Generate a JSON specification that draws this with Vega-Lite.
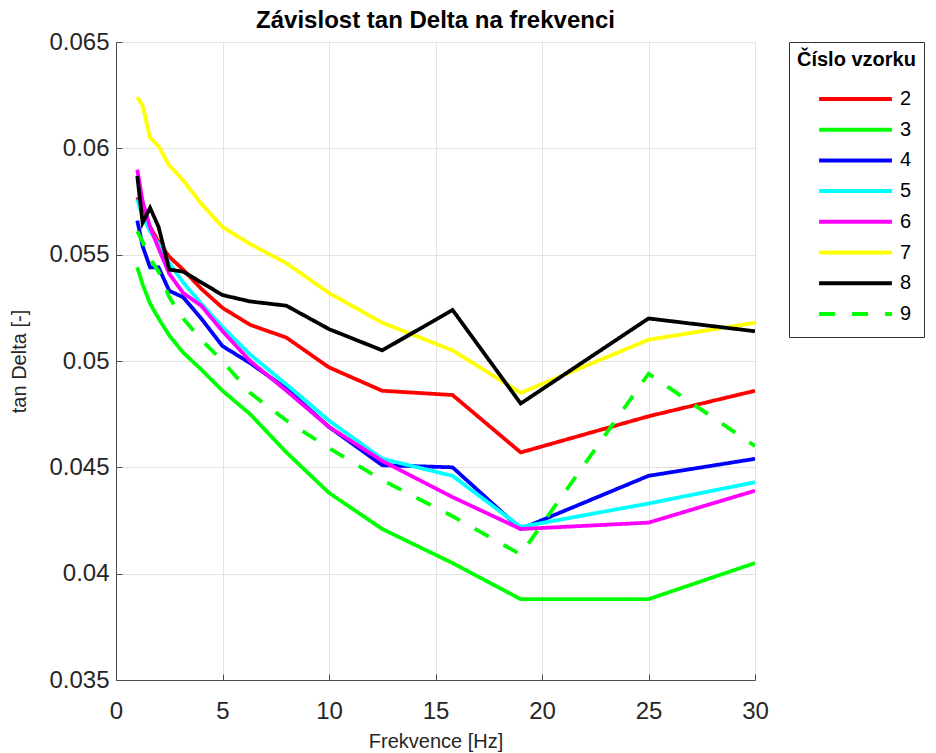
{
  "$schema": "https://vega.github.io/schema/vega-lite/v6.json",
  "autosize": {"type": "none"},
  "width": 639,
  "height": 638,
  "padding": {"left": 116, "top": 42, "right": 181, "bottom": 73},
  "background": "white",
  "config": {
    "font": "Liberation Sans",
    "view": {"stroke": null},
    "axis": {
      "domainColor": "#4d4d4d",
      "domainWidth": 1,
      "tickColor": "#4d4d4d",
      "tickSize": -6,
      "gridColor": "#e3e3e3",
      "gridWidth": 1,
      "labelColor": "#262626",
      "labelFontSize": 24,
      "labelFont": "Liberation Sans",
      "titleFont": "Liberation Sans",
      "titleFontWeight": "normal",
      "titleColor": "#262626",
      "titleFontSize": 20
    }
  },
  "title": {
    "text": "Závislost tan Delta na frekvenci",
    "fontSize": 24,
    "fontWeight": "bold",
    "font": "Liberation Sans",
    "color": "#000000",
    "anchor": "middle",
    "offset": -3
  },
  "data": {
    "values": [
      {"f": 1, "v": 0.0577, "s": "2"}, {"f": 1.25, "v": 0.0570, "s": "2"}, {"f": 1.6, "v": 0.0563, "s": "2"}, {"f": 2, "v": 0.0556, "s": "2"}, {"f": 2.5, "v": 0.0549, "s": "2"}, {"f": 3.15, "v": 0.0543, "s": "2"}, {"f": 4, "v": 0.0534, "s": "2"}, {"f": 5, "v": 0.0525, "s": "2"}, {"f": 6.3, "v": 0.0517, "s": "2"}, {"f": 8, "v": 0.0511, "s": "2"}, {"f": 10, "v": 0.0497, "s": "2"}, {"f": 12.5, "v": 0.0486, "s": "2"}, {"f": 15.8, "v": 0.0484, "s": "2"}, {"f": 19, "v": 0.0457, "s": "2"}, {"f": 25, "v": 0.0474, "s": "2"}, {"f": 30, "v": 0.0486, "s": "2"},
      {"f": 1, "v": 0.0544, "s": "3"}, {"f": 1.25, "v": 0.0536, "s": "3"}, {"f": 1.6, "v": 0.0527, "s": "3"}, {"f": 2, "v": 0.0520, "s": "3"}, {"f": 2.5, "v": 0.0512, "s": "3"}, {"f": 3.15, "v": 0.0504, "s": "3"}, {"f": 4, "v": 0.0496, "s": "3"}, {"f": 5, "v": 0.0486, "s": "3"}, {"f": 6.3, "v": 0.0475, "s": "3"}, {"f": 8, "v": 0.0457, "s": "3"}, {"f": 10, "v": 0.0438, "s": "3"}, {"f": 12.5, "v": 0.0421, "s": "3"}, {"f": 15.8, "v": 0.0405, "s": "3"}, {"f": 19, "v": 0.0388, "s": "3"}, {"f": 25, "v": 0.0388, "s": "3"}, {"f": 30, "v": 0.0405, "s": "3"},
      {"f": 1, "v": 0.0566, "s": "4"}, {"f": 1.25, "v": 0.0554, "s": "4"}, {"f": 1.6, "v": 0.0544, "s": "4"}, {"f": 2, "v": 0.0544, "s": "4"}, {"f": 2.5, "v": 0.0533, "s": "4"}, {"f": 3.15, "v": 0.0530, "s": "4"}, {"f": 4, "v": 0.0520, "s": "4"}, {"f": 5, "v": 0.0507, "s": "4"}, {"f": 6.3, "v": 0.0499, "s": "4"}, {"f": 8, "v": 0.0487, "s": "4"}, {"f": 10, "v": 0.0469, "s": "4"}, {"f": 12.5, "v": 0.0451, "s": "4"}, {"f": 15.8, "v": 0.0450, "s": "4"}, {"f": 19, "v": 0.0421, "s": "4"}, {"f": 25, "v": 0.0446, "s": "4"}, {"f": 30, "v": 0.0454, "s": "4"},
      {"f": 1, "v": 0.0576, "s": "5"}, {"f": 1.25, "v": 0.0568, "s": "5"}, {"f": 1.6, "v": 0.0561, "s": "5"}, {"f": 2, "v": 0.0555, "s": "5"}, {"f": 2.5, "v": 0.0546, "s": "5"}, {"f": 3.15, "v": 0.0537, "s": "5"}, {"f": 4, "v": 0.0527, "s": "5"}, {"f": 5, "v": 0.0516, "s": "5"}, {"f": 6.3, "v": 0.0503, "s": "5"}, {"f": 8, "v": 0.0489, "s": "5"}, {"f": 10, "v": 0.0472, "s": "5"}, {"f": 12.5, "v": 0.0454, "s": "5"}, {"f": 15.8, "v": 0.0446, "s": "5"}, {"f": 19, "v": 0.0422, "s": "5"}, {"f": 25, "v": 0.0433, "s": "5"}, {"f": 30, "v": 0.0443, "s": "5"},
      {"f": 1, "v": 0.0590, "s": "6"}, {"f": 1.25, "v": 0.0575, "s": "6"}, {"f": 1.6, "v": 0.0563, "s": "6"}, {"f": 2, "v": 0.0553, "s": "6"}, {"f": 2.5, "v": 0.0541, "s": "6"}, {"f": 3.15, "v": 0.0532, "s": "6"}, {"f": 4, "v": 0.0526, "s": "6"}, {"f": 5, "v": 0.0514, "s": "6"}, {"f": 6.3, "v": 0.0500, "s": "6"}, {"f": 8, "v": 0.0486, "s": "6"}, {"f": 10, "v": 0.0469, "s": "6"}, {"f": 12.5, "v": 0.0453, "s": "6"}, {"f": 15.8, "v": 0.0436, "s": "6"}, {"f": 19, "v": 0.0421, "s": "6"}, {"f": 25, "v": 0.0424, "s": "6"}, {"f": 30, "v": 0.0439, "s": "6"},
      {"f": 1, "v": 0.0624, "s": "7"}, {"f": 1.25, "v": 0.0620, "s": "7"}, {"f": 1.6, "v": 0.0605, "s": "7"}, {"f": 2, "v": 0.0601, "s": "7"}, {"f": 2.5, "v": 0.0592, "s": "7"}, {"f": 3.15, "v": 0.0585, "s": "7"}, {"f": 4, "v": 0.0574, "s": "7"}, {"f": 5, "v": 0.0563, "s": "7"}, {"f": 6.3, "v": 0.0555, "s": "7"}, {"f": 8, "v": 0.0546, "s": "7"}, {"f": 10, "v": 0.0532, "s": "7"}, {"f": 12.5, "v": 0.0518, "s": "7"}, {"f": 15.8, "v": 0.0505, "s": "7"}, {"f": 19, "v": 0.0485, "s": "7"}, {"f": 25, "v": 0.0510, "s": "7"}, {"f": 30, "v": 0.0518, "s": "7"},
      {"f": 1, "v": 0.0587, "s": "8"}, {"f": 1.25, "v": 0.0565, "s": "8"}, {"f": 1.6, "v": 0.0572, "s": "8"}, {"f": 2, "v": 0.0563, "s": "8"}, {"f": 2.5, "v": 0.0543, "s": "8"}, {"f": 3.15, "v": 0.0542, "s": "8"}, {"f": 4, "v": 0.0537, "s": "8"}, {"f": 5, "v": 0.0531, "s": "8"}, {"f": 6.3, "v": 0.0528, "s": "8"}, {"f": 8, "v": 0.0526, "s": "8"}, {"f": 10, "v": 0.0515, "s": "8"}, {"f": 12.5, "v": 0.0505, "s": "8"}, {"f": 15.8, "v": 0.0524, "s": "8"}, {"f": 19, "v": 0.0480, "s": "8"}, {"f": 25, "v": 0.0520, "s": "8"}, {"f": 30, "v": 0.0514, "s": "8"},
      {"f": 1, "v": 0.0561, "s": "9"}, {"f": 1.25, "v": 0.0556, "s": "9"}, {"f": 1.6, "v": 0.0548, "s": "9"}, {"f": 2, "v": 0.0542, "s": "9"}, {"f": 2.5, "v": 0.0530, "s": "9"}, {"f": 3.15, "v": 0.0520, "s": "9"}, {"f": 4, "v": 0.0510, "s": "9"}, {"f": 5, "v": 0.0500, "s": "9"}, {"f": 6.3, "v": 0.0485, "s": "9"}, {"f": 8, "v": 0.0472, "s": "9"}, {"f": 10, "v": 0.0459, "s": "9"}, {"f": 12.5, "v": 0.0444, "s": "9"}, {"f": 15.8, "v": 0.0427, "s": "9"}, {"f": 19, "v": 0.0409, "s": "9"}, {"f": 25, "v": 0.0494, "s": "9"}, {"f": 30, "v": 0.0460, "s": "9"}
    ]
  },
  "mark": {"type": "line", "strokeWidth": 3.8, "clip": true, "strokeCap": "butt", "strokeJoin": "miter"},
  "encoding": {
    "x": {
      "field": "f", "type": "quantitative",
      "scale": {"domain": [0, 30], "nice": false, "zero": false},
      "axis": {"values": [0, 5, 10, 15, 20, 25, 30], "title": "Frekvence [Hz]", "labelPadding": 25, "titlePadding": 8, "labelFlush": false}
    },
    "y": {
      "field": "v", "type": "quantitative",
      "scale": {"domain": [0.035, 0.065], "nice": false, "zero": false},
      "axis": {"values": [0.035, 0.04, 0.045, 0.05, 0.055, 0.06, 0.065], "format": "~g", "title": "tan Delta [-]", "labelPadding": 13, "titlePadding": 19, "labelFlush": false}
    },
    "color": {
      "field": "s", "type": "nominal",
      "scale": {"domain": ["2", "3", "4", "5", "6", "7", "8", "9"], "range": ["#ff0000", "#00ff00", "#0000ff", "#00ffff", "#ff00ff", "#ffff00", "#000000", "#00ff00"]},
      "legend": {
        "title": "Číslo vzorku",
        "orient": "none",
        "legendX": 673,
        "legendY": 0,
        "direction": "vertical",
        "titleFontSize": 20,
        "titleFontWeight": "bold",
        "titleColor": "#000000",
        "titleFont": "Liberation Sans",
        "titlePadding": 14,
        "labelFontSize": 20,
        "labelColor": "#000000",
        "labelFont": "Liberation Sans",
        "labelOffset": 6,
        "symbolType": "stroke",
        "symbolSize": 5300,
        "symbolStrokeWidth": 4,
        "symbolOffset": 20,
        "clipHeight": 30,
        "rowPadding": 0.7,
        "strokeColor": "#333333",
        "fillColor": "white",
        "padding": 8,
        "offset": 0
      }
    },
    "strokeDash": {
      "field": "s", "type": "nominal",
      "scale": {"domain": ["2", "3", "4", "5", "6", "7", "8", "9"], "range": [[1, 0], [1, 0], [1, 0], [1, 0], [1, 0], [1, 0], [1, 0], [16, 17]]},
      "legend": null
    }
  }
}
